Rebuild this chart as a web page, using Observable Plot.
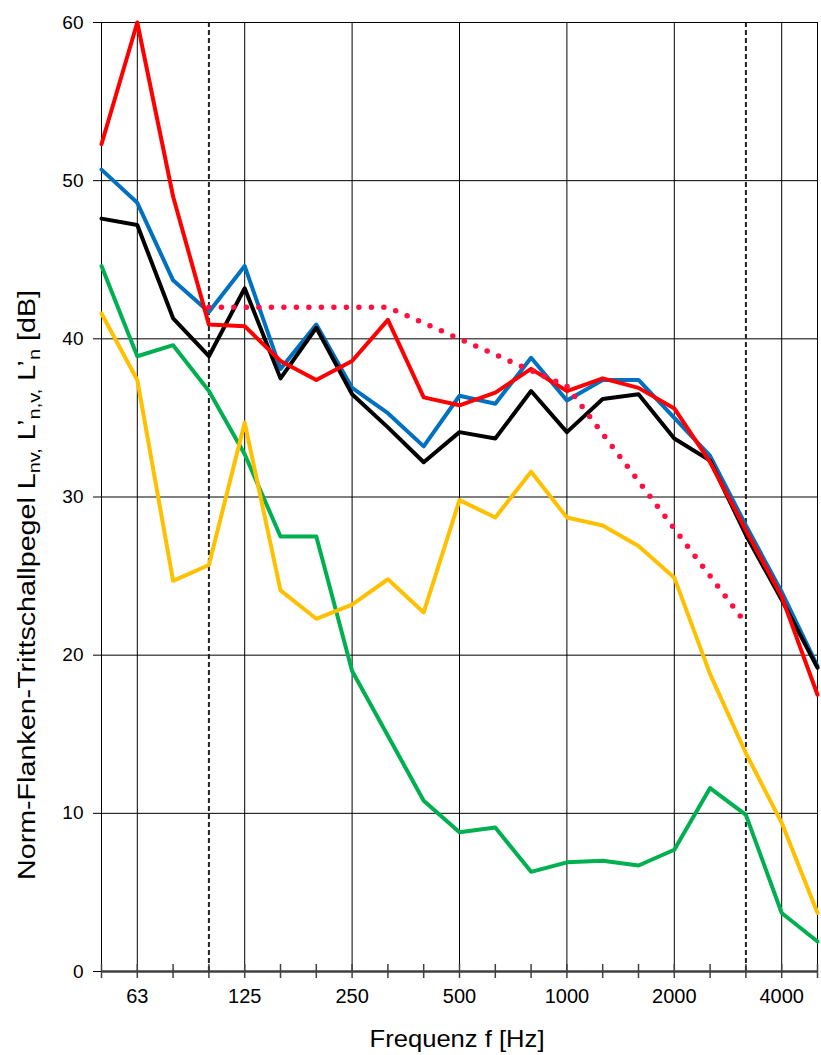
<!DOCTYPE html>
<html>
<head>
<meta charset="utf-8">
<script src="https://cdn.jsdelivr.net/npm/d3@7"></script>
<script src="https://cdn.jsdelivr.net/npm/@observablehq/plot@0.6"></script>
<style>
  html, body { margin: 0; padding: 0; background: #fff; }
  #chart { width: 821px; height: 1055px; }
</style>
</head>
<body>
<div id="chart"></div>
<script>
// Third-octave band centre frequencies (Hz)
const bands = ["50","63","80","100","125","160","200","250","315","400","500","630","800","1000","1250","1600","2000","2500","3150","4000","5000"];
const tickLabels = ["63","125","250","500","1000","2000","4000"];
const gridBands = ["63","125","250","500","1000","2000","4000"];
const dashedBands = ["100","3150"];
const yTicks = [0, 10, 20, 30, 40, 50, 60];

// Series values (dB)
const redValues    = [52.3, 60.0, 49.0, 40.9, 40.8, 38.6, 37.4, 38.6, 41.2, 36.3, 35.8, 36.6, 38.1, 36.7, 37.5, 36.9, 35.6, 32.2, 27.9, 23.7, 17.5];
const blueValues   = [50.7, 48.6, 43.7, 41.7, 44.6, 38.1, 40.9, 36.9, 35.3, 33.2, 36.4, 35.9, 38.8, 36.1, 37.4, 37.4, 35.0, 32.6, 28.2, 24.0, 19.3];
const blackValues  = [47.6, 47.2, 41.3, 38.9, 43.2, 37.5, 40.7, 36.5, 34.4, 32.2, 34.1, 33.7, 36.7, 34.1, 36.2, 36.5, 33.7, 32.3, 27.6, 23.5, 19.2];
const yellowValues = [41.6, 37.4, 24.7, 25.7, 34.7, 24.1, 22.3, 23.2, 24.8, 22.7, 29.8, 28.7, 31.6, 28.7, 28.2, 26.9, 24.9, 18.8, 13.8, 9.4, 3.7];
const greenValues  = [44.6, 38.9, 39.6, 36.7, 32.7, 27.5, 27.5, 19.0, 14.9, 10.8, 8.8, 9.1, 6.3, 6.9, 7.0, 6.7, 7.7, 11.6, 9.9, 3.7, 1.9];

// Shifted reference curve (dotted red), 100 .. 3150 Hz
const refBands  = ["100","125","160","200","250","315","400","500","630","800","1000","1250","1600","2000","2500","3150"];
const refValues = [42, 42, 42, 42, 42, 42, 41, 40, 39, 38, 37, 34, 31, 28, 25, 22];

const seriesColors = {green: "#00b050", yellow: "#ffc000", blue: "#0070c0", black: "#000000", red: "#ff0000"};

// band label -> position index on the (equally spaced) third-octave axis
const idx = (b) => bands.indexOf(b);
const toRows = (vals) => bands.map((b, i) => ({band: idx(b), value: vals[i]}));
const refRows = refBands.map((b, i) => ({band: idx(b), value: refValues[i]}));

const font = "'Liberation Sans', Arial, sans-serif";

const plot = Plot.plot({
  width: 821,
  height: 1055,
  marginLeft: 101,
  marginRight: 4,
  marginTop: 22,
  marginBottom: 84,
  style: {fontFamily: font, background: "#fff", color: "#000"},
  x: {type: "linear", domain: [0, bands.length - 1]},
  y: {domain: [0, 60]},
  marks: [
    // horizontal grid
    Plot.ruleY(yTicks, {stroke: "#000", strokeWidth: 1}),
    // vertical grid
    Plot.ruleX(gridBands.map(idx), {stroke: "#000", strokeWidth: 1}),
    Plot.ruleX(dashedBands.map(idx), {stroke: "#222", strokeWidth: 2, strokeDasharray: "5,3"}),
    Plot.frame({stroke: "#000", strokeWidth: 1}),
    // series
    Plot.line(toRows(greenValues),  {x: "band", y: "value", stroke: seriesColors.green,  strokeWidth: 4}),
    Plot.line(toRows(yellowValues), {x: "band", y: "value", stroke: seriesColors.yellow, strokeWidth: 4}),
    Plot.line(toRows(blueValues),   {x: "band", y: "value", stroke: seriesColors.blue,   strokeWidth: 4}),
    Plot.line(toRows(blackValues),  {x: "band", y: "value", stroke: seriesColors.black,  strokeWidth: 4}),
    Plot.line(toRows(redValues),    {x: "band", y: "value", stroke: seriesColors.red,    strokeWidth: 4}),
    Plot.line(refRows, {x: "band", y: "value", stroke: "#ff1040", strokeWidth: 5.5, strokeDasharray: "0,12.5", strokeLinecap: "round"}),
    // x axis line and crossing ticks
    Plot.ruleY([0], {stroke: "#404040", strokeWidth: 2.5}),
    Plot.tickX(bands.map(idx), {x: d => d, stroke: "#404040", strokeWidth: 1.5, insetTop: 942, insetBottom: -7}),
    Plot.axisX({ticks: tickLabels.map(idx), tickFormat: i => bands[i], tickSize: 0, tickPadding: 17, fontSize: 20, label: null}),
    Plot.axisY({ticks: yTicks, tickSize: 8, tickPadding: 10, fontSize: 19, label: null, tickFormat: d => String(d)})
  ]
});

document.getElementById("chart").appendChild(plot);

// Axis titles
const svg = d3.select(plot);
svg.append("text")
  .attr("x", 457).attr("y", 1047)
  .attr("text-anchor", "middle")
  .attr("font-family", font)
  .attr("font-size", 24)
  .attr("fill", "#000")
  .attr("textLength", 175)
  .attr("lengthAdjust", "spacingAndGlyphs")
  .text("Frequenz f [Hz]");

const yl = svg.append("text")
  .attr("transform", "translate(35,585) rotate(-90)")
  .attr("text-anchor", "middle")
  .attr("font-family", font)
  .attr("font-size", 23)
  .attr("fill", "#000")
  .attr("textLength", 590)
  .attr("lengthAdjust", "spacingAndGlyphs");
const parts = [
  ["Norm-Flanken-Trittschallpegel L", false],
  ["nv,", true],
  [" L\u2019", false],
  ["n,v,", true],
  [" L\u2019", false],
  ["n", true],
  [" [dB]", false]
];
parts.forEach(([t, sub], i) => {
  const prevSub = i > 0 && parts[i - 1][1];
  const ts = yl.append("tspan").text(t).attr("dy", sub ? 5 : (prevSub ? -5 : 0));
  if (sub) ts.attr("font-size", 16);
});
</script>
</body>
</html>
